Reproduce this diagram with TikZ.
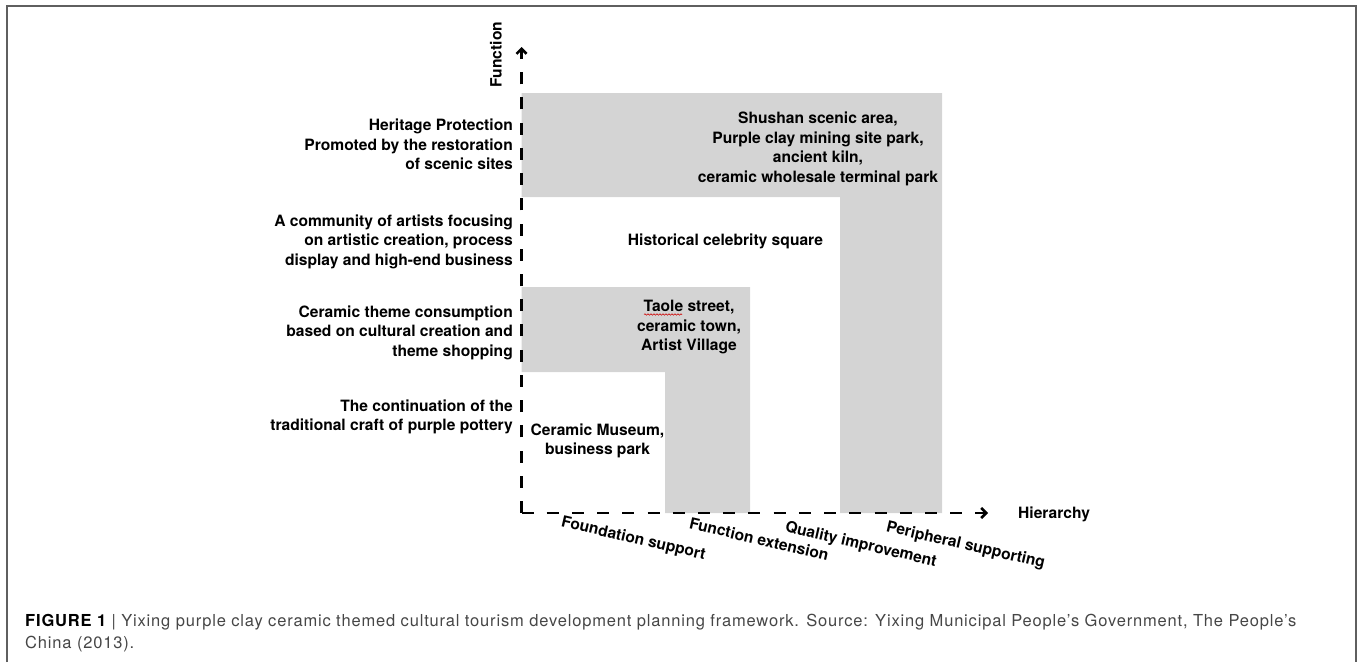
\documentclass[tikz,border=0pt]{standalone}
\usepackage{fontspec}
\setmainfont{TeX Gyre Heros}
\newfontfamily\capfamily[LetterSpace=5]{TeX Gyre Heros}
\usetikzlibrary{arrows.meta,decorations.pathmorphing}
\definecolor{band}{RGB}{212,212,212}
\definecolor{framec}{RGB}{95,95,95}
\definecolor{captc}{RGB}{70,70,70}
\begin{document}
\begin{tikzpicture}[x=1pt,y=-1pt,
  lbl/.style={font=\bfseries\fontsize{15.6}{19.5}\selectfont, inner sep=0pt, align=right, anchor=east},
  cell/.style={font=\bfseries\fontsize{15.6}{19.5}\selectfont, inner sep=0pt, align=center},
  tick/.style={font=\bfseries\fontsize{15.6}{19.5}\selectfont, inner sep=0pt, anchor=north west, rotate=-13},
  axislbl/.style={font=\bfseries\fontsize{15.6}{19.5}\selectfont, inner sep=0pt},
  axisline/.style={line width=2.6pt, dash pattern=on 12pt off 13.22pt, -{Straight Barb[length=5pt,width=10pt]}},
  captfont/.style={font=\capfamily\fontsize{16.5}{22}\selectfont, text=captc, inner sep=0pt, anchor=base west},
  framestyle/.style={draw=framec, line width=1.5pt}
]
\useasboundingbox (0,0) rectangle (1360,662);
% frame
\draw[framestyle] (7,662) -- (7,6) -- (1356,6) -- (1356,662);
% grey bands
\fill[band] (521.5,93) -- (942,93) -- (942,513) -- (840,513) -- (840,197) -- (521.5,197) -- cycle;
\fill[band] (521.5,287) -- (750,287) -- (750,513) -- (665,513) -- (665,372) -- (521.5,372) -- cycle;
% axes
\coordinate (O) at (521.5,513);
\coordinate (ytip) at (521.5,47);
\coordinate (xtip) at (988,513);
\draw[axisline] (O) -- (ytip);
\draw[axisline] (O) -- (xtip);
\node[axislbl, rotate=90] (yname) at (496,54.5) {Function};
\node[axislbl, anchor=west] (xname) at (1018,514) {Hierarchy};
% left labels
\node[lbl] (f1) at (513,144.5) {Heritage Protection\\Promoted by the restoration\\of scenic sites};
\node[lbl] (f2) at (513,241.5) {A community of artists focusing\\on artistic creation, process\\display and high-end business};
\node[lbl] (f3) at (513,332.5) {Ceramic theme consumption\\based on cultural creation and\\theme shopping};
\node[lbl] (f4) at (513,416.7) {The continuation of the\\traditional craft of purple pottery};
% cell texts
\node[cell] (c1) at (818,149) {Shushan scenic area,\\Purple clay mining site park,\\ancient kiln,\\ceramic wholesale terminal park};
\node[cell] (c2) at (725.5,241.7) {Historical celebrity square};
\node[cell] (c3) at (689,327.5) {Taole street,\\ceramic town,\\Artist Village};
\node[cell] (c4) at (597.5,441) {Ceramic Museum,\\business park};
% spell-check squiggle under "Taole"
\draw[red!80!black, line width=0.6pt, decorate, decoration={snake, amplitude=0.7pt, segment length=3pt}] (644,314.5) -- (682,314.5);
% hierarchy ticks
\node[tick] (h1) at (563,515) {Foundation support};
\node[tick] (h2) at (691,517) {Function extension};
\node[tick] (h3) at (787,520) {Quality improvement};
\node[tick] (h4) at (888,520) {Peripheral supporting};
% caption
\node[captfont] (cap1) at (25,626) {{\bfseries\color{black}FIGURE 1} | Yixing purple clay ceramic themed cultural tourism development planning framework. Source: Yixing Municipal People’s Government, The People’s};
\node[captfont] (cap2) at (25,648) {China (2013).};
\end{tikzpicture}
\end{document}
